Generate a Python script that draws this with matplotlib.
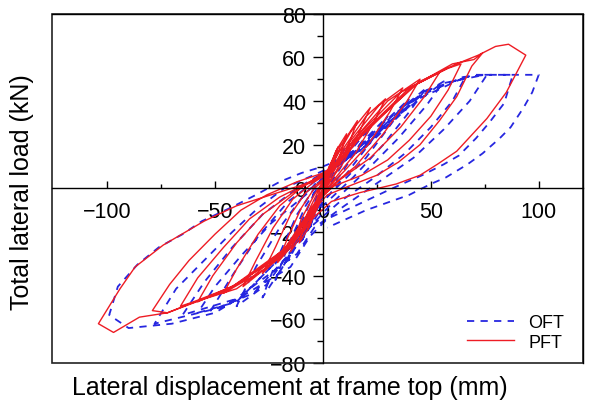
import matplotlib
matplotlib.use("Agg")
import matplotlib.pyplot as plt
from matplotlib.patches import Rectangle

plt.rcParams['font.family'] = ['Liberation Sans', 'DejaVu Sans']

# PFT hysteresis trace (mm, kN), one row per cycle
pft_x = [0, 2, 4, 2, 0, -2, -4, -2, 0,
         3, 7, 4, 1, -3, -7, -4, -1,
         2, 6, 11, 7, 2, -2, -6, -11, -7, -2,
         3, 8, 16, 10, 4, -2, -7, -15, -10, -4,
         0, 6, 13, 22, 16, 9, 3, -1, -7, -14, -21, -16, -10, -4,
         2, 10, 20, 29, 24, 15, 6, -1, -9, -20, -28, -22, -15, -8, 0,
         5, 13, 26, 37, 31, 21, 10, 2, -4, -13, -27, -37, -31, -23, -14, -4,
         5, 14, 30, 45, 39, 28, 15, 5, -4, -15, -32, -46, -40, -30, -20, -8,
         4, 15, 36, 54, 47, 36, 22, 8, -3, -16, -38, -58, -51, -40, -28, -14, 0,
         6, 17, 40, 58, 64, 58, 50, 40, 30, 18, 5, -4, -18, -42, -60, -66, -58, -46, -34, -20, -6,
         8, 18, 42, 60, 70, 74, 69, 62, 54, 45, 35, 25, 12, 2, -6, -20, -45, -62, -72, -79,
         -71, -62, -50, -38, -26, -12, 0,
         8, 20, 45, 62, 72, 80, 86, 94, 85, 76, 62, 53, 45, 34, 17, 4, -5, -20, -40, -56,
         -72, -85, -97, -104, -94, -87, -74, -55, -40, -21, -5, 5]
pft_y = [0, 8, 12, 4, 0, -8, -12, -4, 0,
         10, 19, 8, 1, -9, -19, -8, 0,
         6, 17, 25, 12, 2, -6, -17, -25, -11, -1,
         7, 19, 31, 15, 4, -5, -17, -29, -14, -3,
         3, 14, 26, 37, 24, 11, 3, -3, -15, -26, -34, -22, -9, 0,
         5, 19, 33, 41, 31, 16, 5, -4, -18, -31, -39, -27, -12, -2, 4,
         10, 22, 38, 46, 35, 20, 8, 0, -8, -23, -37, -45, -33, -18, -5, 3,
         8, 22, 40, 50, 40, 25, 10, 2, -8, -25, -40, -48, -37, -21, -8, 2,
         8, 23, 44, 53, 42, 28, 14, 4, -6, -27, -43, -52, -40, -25, -12, -2, 6,
         10, 24, 46, 55, 57, 45, 33, 22, 13, 6, 1, -7, -28, -45, -52, -54, -41, -27, -14, -4, 3,
         12, 24, 47, 57, 59, 62, 56, 42, 31, 20, 12, 6, 1, -3, -12, -31, -47, -53, -57, -56,
         -44, -33, -21, -10, -3, 3, 7,
         12, 27, 49, 57, 61, 65, 66, 61, 44, 32, 17, 11, 6, 2, -2, -6, -14, -32, -46, -51,
         -57, -59, -66, -62, -46, -36, -26, -15, -8, -2, 3, 8]

# OFT hysteresis trace (mm, kN)
oft_x = [0, 3, 1, -1, -3, -1, 0,
         3, 6, 3, 0, -3, -6, -3, 0,
         4, 10, 6, 1, -4, -10, -6, -1,
         6, 16, 11, 4, -3, -9, -16, -11, -4, 2,
         10, 22, 16, 8, 0, -8, -22, -16, -8, 0,
         12, 30, 22, 12, 2, -6, -18, -28, -21, -12, -2,
         12, 26, 40, 32, 20, 8, 0, -10, -26, -40, -31, -20, -8, 2,
         14, 32, 48, 40, 28, 14, 0, -10, -32, -52, -42, -30, -16, 0,
         16, 38, 56, 48, 35, 20, 5, -8, -38, -65, -55, -42, -28, -12, 0,
         17, 40, 66, 60, 50, 38, 24, 8, -6, -40, -58, -50, -38, -24, -8, 0,
         18, 44, 65, 76, 68, 56, 42, 26, 10, -4, -12, -45, -78, -68, -55, -42, -30, -18, 0,
         20, 48, 70, 88, 84, 77, 71, 63, 56, 46, 39, 30, 15, 2, -6, -15, -50, -70, -90, -99,
         -95, -86, -76, -65, -56, -43, -31, -20, -10, 0,
         10, 30, 55, 75, 100, 97, 93, 87, 82, 74, 67, 57, 50, 40, 20, 2]
oft_y = [0, 8, 2, -3, -10, -3, 0,
         7, 13, 5, -1, -9, -18, -7, 1,
         8, 18, 9, 0, -10, -25, -12, 1,
         10, 23, 14, 3, -6, -20, -33, -18, -2, 4,
         14, 28, 18, 6, -4, -17, -42, -26, -8, 4,
         15, 33, 21, 8, -4, -14, -35, -50, -32, -12, 3,
         14, 28, 41, 30, 14, 2, -6, -22, -44, -54, -36, -18, -2, 6,
         16, 33, 46, 35, 20, 5, -8, -24, -48, -56, -40, -22, -6, 6,
         17, 38, 49, 38, 23, 8, -6, -20, -50, -58, -43, -27, -12, 0, 7,
         17, 39, 51, 40, 28, 16, 5, -6, -18, -52, -57, -45, -31, -16, -3, 6,
         18, 42, 51, 52, 40, 27, 14, 3, -8, -18, -30, -54, -62, -46, -33, -20, -9, 0, 8,
         19, 45, 52, 52, 39, 30, 23, 15, 11, 6, 3, -1, -8, -14, -22, -36, -57, -62, -64, -58,
         -45, -35, -27, -21, -15, -9, -3, 3, 7, 10,
         14, 30, 48, 52, 52, 44, 37, 28, 23, 16, 11, 5, 2, -3, -10, -18]

x_ticks = [-100, -50, 0, 50, 100]
y_ticks = [-80, -60, -40, -20, 0, 20, 40, 60, 80]

fig = plt.figure(figsize=(5.93, 4.02), dpi=100)
ax = fig.add_axes([0.0877, 0.0945, 0.8954, 0.869])

ax.plot(oft_x, oft_y, color='#2626e0', lw=1.3, linestyle=(0, (4, 3.5)), label='OFT')
ax.plot(pft_x, pft_y, color='#ee1c24', lw=1.0, label='PFT')

ax.set_xlim(-125.5, 120.5)
ax.set_ylim(-79.5, 80)

# axes through the origin, plus a closed frame
ax.spines['left'].set_position(('data', 0))
ax.spines['bottom'].set_position(('data', 0))
for s in ax.spines.values():
    s.set_linewidth(1.0)
ax.add_patch(Rectangle((0, 0), 1, 1, transform=ax.transAxes, fill=False,
                       lw=1.2, edgecolor='#222222', clip_on=False))
ax.set_axisbelow(True)

ax.set_xticks(x_ticks)
ax.set_xticks([-75, -25, 25, 75], minor=True)
ax.set_yticks(y_ticks)
ax.set_yticks([-70, -50, -30, -10, 10, 30, 50, 70], minor=True)
ax.tick_params(axis='x', which='both', direction='in', top=False, labelsize=15.5, pad=9)
ax.tick_params(axis='y', which='both', direction='out', right=False, labelsize=15.5, pad=5)
ax.tick_params(axis='x', which='major', length=5, width=1.0)
ax.tick_params(axis='x', which='minor', length=3, width=1.0)
ax.tick_params(axis='y', which='major', length=7, width=1.0)
ax.tick_params(axis='y', which='minor', length=4, width=1.0)

fig.text(290 / 593, 1 - 388 / 402, 'Lateral displacement at frame top (mm)',
         ha='center', va='center', fontsize=18)
fig.text(22 / 593, 1 - 192 / 402, 'Total lateral load (kN)', rotation=90,
         ha='center', va='center', fontsize=18)

ax.legend(loc='lower right', bbox_to_anchor=(0.965, 0.035), frameon=False,
          fontsize=13, handlelength=2.6, handletextpad=0.8, labelspacing=0.15,
          borderaxespad=0, borderpad=0)

fig.savefig('out.png', dpi=100)
